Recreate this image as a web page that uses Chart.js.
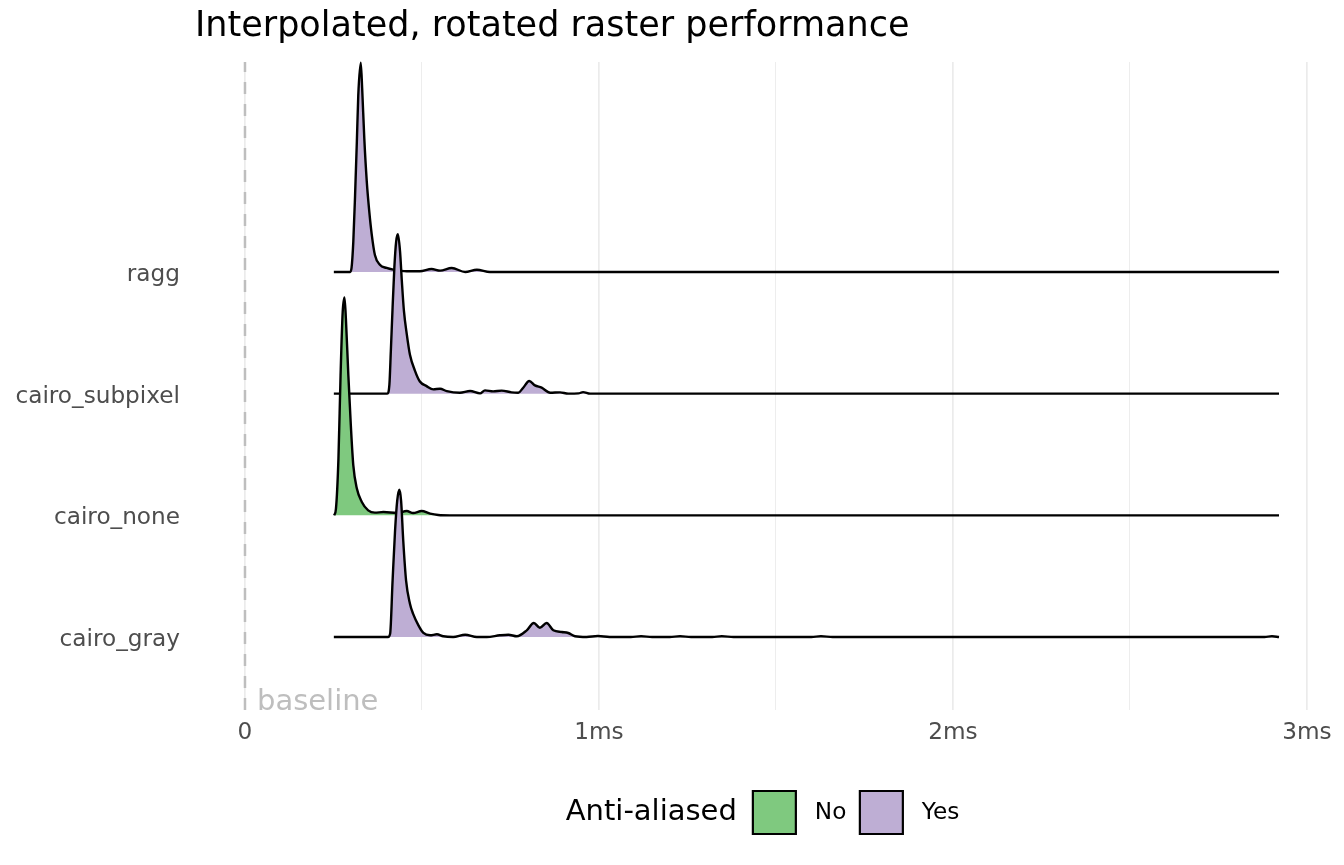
<!DOCTYPE html>
<html>
<head>
<meta charset="utf-8">
<title>Interpolated, rotated raster performance</title>
<script src="https://cdn.jsdelivr.net/npm/chart.js@4.4.1/dist/chart.umd.min.js"></script>
<style>
    html, body { margin: 0; padding: 0; background: #fff; }
    #wrap { width: 1344px; height: 865px; }
</style>
</head>
<body>
<div id="wrap"><canvas id="ridgeChart"></canvas></div>
<script>
// ===== Data (time in ms, height in ridge-gap units) =====
const categories = ['cairo_gray', 'cairo_none', 'cairo_subpixel', 'ragg'];
const antiAliased = ['Yes', 'No', 'Yes', 'Yes'];

const raggX = [0.251, 0.297, 0.301, 0.306, 0.311, 0.316, 0.320, 0.327, 0.331, 0.337, 0.344, 0.351, 0.358, 0.367, 0.381, 0.400, 0.419, 0.457, 0.494, 0.527, 0.551, 0.584, 0.622, 0.655, 0.692, 2.921];
const raggH = [0, 0, 0.033, 0.25, 0.63, 1.07, 1.45, 1.72, 1.51, 1.10, 0.745, 0.50, 0.31, 0.14, 0.06, 0.033, 0.019, 0.006, 0.006, 0.025, 0.011, 0.033, 0, 0.019, 0, 0];

const subpixelX = [0.251, 0.402, 0.408, 0.412, 0.417, 0.422, 0.427, 0.432, 0.438, 0.443, 0.449, 0.457, 0.466, 0.480, 0.494, 0.513, 0.532, 0.551, 0.570, 0.607, 0.636, 0.664, 0.678, 0.701, 0.725, 0.753, 0.772, 0.786, 0.803, 0.819, 0.838, 0.862, 0.890, 0.913, 0.942, 0.955, 0.975, 2.921];
const subpixelH = [0, 0, 0.076, 0.35, 0.71, 1.04, 1.25, 1.31, 1.17, 0.93, 0.68, 0.49, 0.32, 0.19, 0.10, 0.062, 0.035, 0.041, 0.021, 0.008, 0.022, 0.002, 0.027, 0.019, 0.025, 0.011, 0.008, 0.049, 0.104, 0.068, 0.049, 0.008, 0.011, 0, 0.002, 0.013, 0, 0];

const noneX = [0.252, 0.257, 0.264, 0.270, 0.276, 0.281, 0.285, 0.292, 0.299, 0.306, 0.316, 0.330, 0.348, 0.367, 0.391, 0.429, 0.457, 0.475, 0.499, 0.523, 0.546, 0.579, 2.921];
const noneH = [0, 0.055, 0.466, 1.15, 1.67, 1.79, 1.62, 1.15, 0.74, 0.41, 0.22, 0.11, 0.041, 0.022, 0.027, 0.019, 0.035, 0.019, 0.035, 0.014, 0.003, 0, 0];

const grayX = [0.251, 0.404, 0.410, 0.417, 0.424, 0.430, 0.436, 0.441, 0.447, 0.455, 0.466, 0.475, 0.490, 0.504, 0.523, 0.542, 0.560, 0.588, 0.622, 0.655, 0.683, 0.720, 0.744, 0.768, 0.796, 0.816, 0.833, 0.852, 0.871, 0.895, 0.913, 0.932, 0.965, 0.997, 1.030, 1.090, 1.119, 1.150, 1.200, 1.229, 1.260, 1.320, 1.347, 1.380, 1.600, 1.627, 1.660, 2.880, 2.901, 2.921];
const grayH = [0, 0, 0.027, 0.466, 0.877, 1.12, 1.21, 1.12, 0.795, 0.466, 0.274, 0.19, 0.096, 0.033, 0.014, 0.022, 0.006, 0, 0.019, 0, 0, 0.014, 0.019, 0.006, 0.055, 0.115, 0.076, 0.115, 0.055, 0.041, 0.033, 0.006, 0, 0.008, 0, 0, 0.006, 0, 0, 0.006, 0, 0, 0.006, 0, 0, 0.006, 0, 0, 0.006, 0];

const seriesX = [grayX, noneX, subpixelX, raggX];
const seriesH = [grayH, noneH, subpixelH, raggH];

const xTickValues = [0, 0.5, 1, 1.5, 2, 2.5, 3];
const xTickLabels = ['0', '', '1ms', '', '2ms', '', '3ms'];
const legendKeys = ['No', 'Yes'];
const baselineX = 0;

// ------ Styling ------
const fillColors = { No: '#7FC97F', Yes: '#BEAED4' };
const Y_MIN = 0.4;
const Y_MAX = 5.726;
const X_MIN = -0.1412;
const X_MAX = 3.065;
const SMALL_FONT = 23.2;
const LEGEND_TITLE = 'Anti-aliased';
const LEGEND_TITLE_FONT = "29px 'DejaVu Sans'";
const LEGEND_GAP = 16;

document.addEventListener('DOMContentLoaded', () => {
    Chart.defaults.font.family = "'DejaVu Sans', sans-serif";
    Chart.defaults.color = '#4D4D4D';

    // ------ Ridge datasets (back ridge drawn first) ------
    const ridges = categories.map((name, i) => {
        const offset = i + 1;
        const col = fillColors[antiAliased[i]];
        return {
            label: name,
            data: seriesX[i].map((x, j) => ({ x: x, y: offset + seriesH[i][j] })),
            borderColor: '#000',
            borderWidth: 2.4,
            backgroundColor: col,
            fill: { value: offset },
            pointRadius: 0,
            cubicInterpolationMode: 'monotone',
            clip: false,
            order: i
        };
    });

    const baselineLine = {
        label: 'baseline',
        data: [{ x: baselineX, y: Y_MIN }, { x: baselineX, y: Y_MAX }],
        borderColor: '#BEBEBE',
        borderWidth: 2.5,
        borderDash: [12, 10],
        pointRadius: 0,
        fill: false,
        order: 10
    };

    // ------ Legend title + centring on the panel ------
    const legendTitlePlugin = {
        id: 'legendTitle',
        afterLayout(chart) {
            const lg = chart.legend;
            if (!lg || !lg.lineWidths) return;
            const ctx = chart.ctx;
            ctx.save();
            ctx.font = LEGEND_TITLE_FONT;
            const tw = ctx.measureText(LEGEND_TITLE).width;
            ctx.restore();
            const pad = lg.options.labels.padding;
            const itemsW = lg.lineWidths[0] - pad;
            const groupW = tw + LEGEND_GAP + itemsW;
            const ca = chart.chartArea;
            const groupLeft = (ca.left + ca.right) / 2 - groupW / 2;
            const itemsLeft = groupLeft + tw + LEGEND_GAP;
            const cur = (lg.left + pad + lg.right - lg.lineWidths[0]) / 2;
            const dx = itemsLeft - cur;
            lg.left += dx;
            lg.right += dx;
            lg._titleX = groupLeft;
        },
        afterDraw(chart) {
            const lg = chart.legend;
            if (!lg || lg._titleX === undefined) return;
            const ctx = chart.ctx;
            const pad = lg.options.labels.padding;
            ctx.save();
            ctx.font = LEGEND_TITLE_FONT;
            ctx.fillStyle = '#000';
            ctx.textAlign = 'left';
            ctx.textBaseline = 'middle';
            ctx.fillText(LEGEND_TITLE, lg._titleX, lg.top + pad + lg.options.labels.boxHeight / 2);
            ctx.restore();
        }
    };

    // ------ "baseline" annotation text ------
    const baselineLabelPlugin = {
        id: 'baselineLabel',
        afterDatasetsDraw(chart) {
            const { ctx, scales } = chart;
            ctx.save();
            ctx.font = "29px 'DejaVu Sans'";
            ctx.fillStyle = '#BEBEBE';
            ctx.textAlign = 'left';
            ctx.textBaseline = 'alphabetic';
            ctx.fillText('baseline', scales.x.getPixelForValue(baselineX) + 12, scales.y.getPixelForValue(Y_MIN));
            ctx.restore();
        }
    };

    new Chart(document.getElementById('ridgeChart'), {
        type: 'line',
        data: { datasets: ridges.concat([baselineLine]) },
        plugins: [legendTitlePlugin, baselineLabelPlugin],
        options: {
            responsive: true,
            maintainAspectRatio: false,
            animation: false,
            layout: { padding: { left: 0, right: 14, top: 0, bottom: 21 } },
            plugins: {
                title: {
                    display: true,
                    text: 'Interpolated, rotated raster performance',
                    align: 'start',
                    fullSize: false,
                    color: '#000',
                    font: { size: 35, weight: 'normal' },
                    padding: { top: 6, bottom: 14 }
                },
                legend: {
                    position: 'bottom',
                    onClick: null,
                    labels: {
                        boxWidth: 43,
                        boxHeight: 43,
                        padding: 13.5,
                        color: '#000',
                        font: { size: SMALL_FONT },
                        generateLabels: () => legendKeys.map((k) => ({
                            text: ' ' + k,
                            fillStyle: fillColors[k],
                            strokeStyle: '#000',
                            lineWidth: 2.2,
                            fontColor: '#000',
                            hidden: false
                        }))
                    }
                },
                tooltip: { enabled: false }
            },
            scales: {
                x: {
                    type: 'linear',
                    min: X_MIN,
                    max: X_MAX,
                    afterBuildTicks: (axis) => { axis.ticks = xTickValues.map((v) => ({ value: v })); },
                    afterFit: (scale) => { scale.height = 67.5; },
                    border: { display: false },
                    grid: {
                        drawTicks: false,
                        color: '#EBEBEB',
                        lineWidth: (ctx) => (ctx.tick && ctx.tick.value % 1 === 0 ? 1.7 : 0.9)
                    },
                    ticks: {
                        autoSkip: false,
                        maxRotation: 0,
                        padding: 9,
                        color: '#4D4D4D',
                        font: { size: SMALL_FONT },
                        callback: (v, i) => xTickLabels[i]
                    }
                },
                y: {
                    type: 'linear',
                    min: Y_MIN,
                    max: Y_MAX,
                    afterBuildTicks: (axis) => { axis.ticks = categories.map((c, i) => ({ value: i + 1 })); },
                    afterFit: (scale) => { scale.width = 195; },
                    border: { display: false },
                    grid: { display: false, drawTicks: false },
                    ticks: {
                        autoSkip: false,
                        padding: 15,
                        labelOffset: 3,
                        color: '#4D4D4D',
                        font: { size: SMALL_FONT },
                        callback: (v) => categories[v - 1]
                    }
                }
            }
        }
    });
});
</script>
</body>
</html>
